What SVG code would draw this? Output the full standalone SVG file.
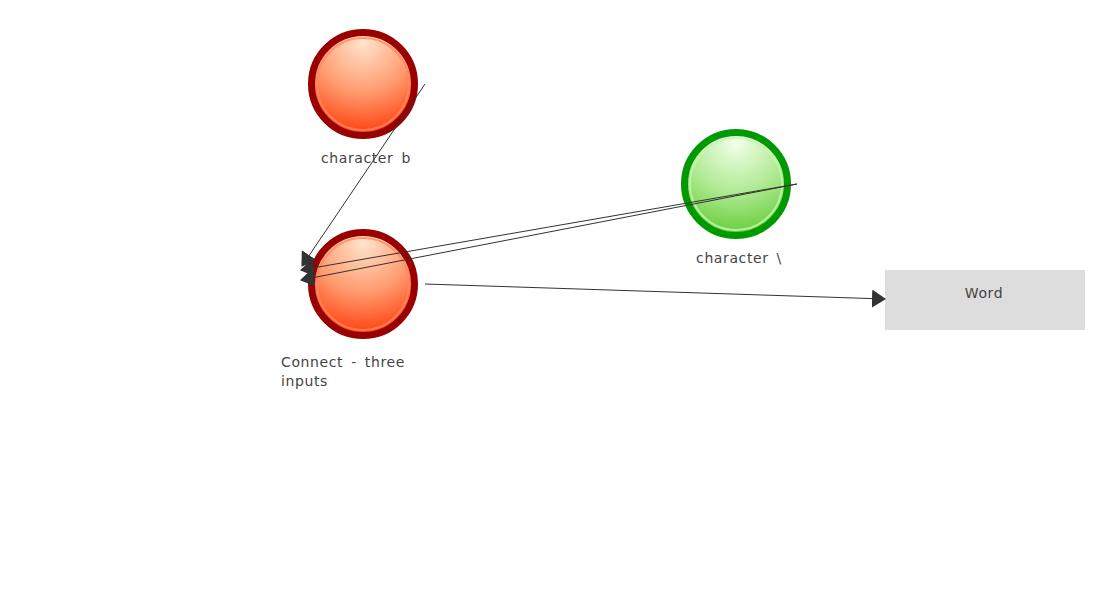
<svg xmlns="http://www.w3.org/2000/svg" width="1100" height="600" viewBox="0 0 1100 600">
<defs>
<radialGradient id="gRed" cx="0.5" cy="0.1" r="0.95">
<stop offset="0" stop-color="#ffe4cc"/>
<stop offset="0.5" stop-color="#ff9c70"/>
<stop offset="1" stop-color="#ff3300"/>
</radialGradient>
<radialGradient id="gGreen" cx="0.5" cy="0.1" r="0.95">
<stop offset="0" stop-color="#f2ffea"/>
<stop offset="0.5" stop-color="#b0ea94"/>
<stop offset="1" stop-color="#5ec830"/>
</radialGradient>
<marker id="arr" viewBox="0 0 14 18" refX="13" refY="9" markerWidth="14" markerHeight="18" markerUnits="userSpaceOnUse" orient="auto">
<path d="M0,0 L14,9 L0,18 Z" fill="#333"/>
</marker>
</defs>
<style>
.lbl{font-family:"DejaVu Sans",sans-serif;font-size:14px;fill:#444;letter-spacing:0.6px;word-spacing:3px}
.red{fill:url(#gRed);stroke:#990000;stroke-width:7}
.green{fill:url(#gGreen);stroke:#009900;stroke-width:7}
.redIn{fill:none;stroke:#ff8a60;stroke-width:2;opacity:0.8}
.greenIn{fill:none;stroke:#c8f5b0;stroke-width:2;opacity:0.8}
.edge{stroke:#333;stroke-width:1;fill:none;marker-end:url(#arr)}
</style>
<g id="node-b">
<circle class="red" cx="363" cy="84" r="51.5"/>
<circle class="redIn" cx="363" cy="84" r="46"/>
<text class="lbl" x="366" y="163" text-anchor="middle">character b</text>
</g>
<g id="node-connect">
<circle class="red" cx="363" cy="284" r="51.5"/>
<circle class="redIn" cx="363" cy="284" r="46"/>
<text class="lbl" x="281" y="367">Connect - three</text>
<text class="lbl" x="281" y="386">inputs</text>
</g>
<g id="node-backslash">
<circle class="green" cx="736" cy="184" r="51.5"/>
<circle class="greenIn" cx="736" cy="184" r="46"/>
<text class="lbl" x="739" y="263" text-anchor="middle">character \</text>
</g>
<g id="node-word">
<rect x="885" y="270" width="200" height="60" fill="#dddddd"/>
<text class="lbl" x="984" y="298" text-anchor="middle">Word</text>
</g>
<g id="connectors">
<path class="edge" d="M425,84 L302,266"/>
<path class="edge" d="M797,184 L301,270"/>
<path class="edge" d="M797,184 L301,280"/>
<path class="edge" d="M425,284 L885,299"/>
</g>
</svg>
